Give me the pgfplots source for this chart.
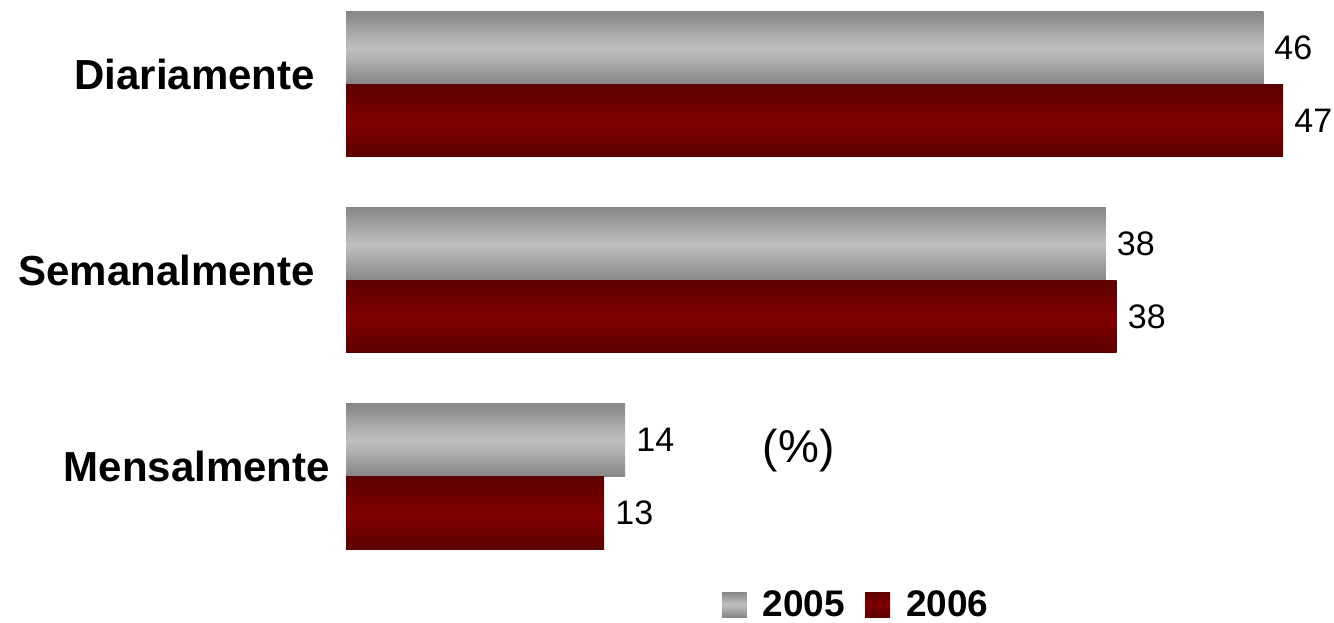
\documentclass[border=0pt]{standalone}
\usepackage{fontspec}
\setmainfont{Liberation Sans}
\usepackage{pgfplots}
\pgfplotsset{compat=1.18}
\definecolor{greyedge}{HTML}{878787}
\definecolor{greymid}{HTML}{C0C0C0}
\definecolor{rededge}{HTML}{5C0000}
\definecolor{redmid}{HTML}{800000}
\pgfplotsset{
  s2005/.style={draw=none, top color=greyedge, bottom color=greyedge, middle color=greymid, bar shift=36.25bp},
  s2006/.style={draw=none, top color=rededge, bottom color=rededge, middle color=redmid, bar shift=-36.25bp},
}
\begin{document}
\begin{tikzpicture}
\useasboundingbox (0,0) rectangle (1334bp,623bp);
\begin{axis}[
  at={(346bp,68.1bp)}, anchor=south west,
  scale only axis, width=977.1bp, height=548.8bp,
  xbar, bar width=72.5bp,
  xmin=0, xmax=49, ymin=-0.4, ymax=2.4,
  axis line style={draw=none}, major tick length=0pt,
  xtick=\empty, ytick={0,1,2},
  yticklabels={Mensalmente\hspace*{-15bp}, Semanalmente, Diariamente},
  yticklabel style={font=\fontsize{42bp}{48bp}\selectfont\bfseries, inner sep=0pt, xshift=-31bp, yshift=10bp},
  point meta=explicit symbolic,
  nodes near coords={\pgfplotspointmeta},
  nodes near coords style={font=\fontsize{34bp}{40bp}\selectfont, inner sep=0pt, anchor=west, xshift=11bp, color=black},
  clip=false,
  legend columns=2,
  legend style={at={(0.522,-0.0904)}, anchor=center, draw=none, fill=none, font=\fontsize{37bp}{42bp}\selectfont\bfseries, inner sep=0pt,
    /tikz/every odd column/.append style={column sep=14bp},
    /tikz/every even column/.append style={column sep=18bp}},
  legend image code/.code={\path[#1] (0bp,-12.5bp) rectangle (25bp,12.5bp);},
]
\addplot[s2005] coordinates {(46,2) [46]};
\addplot[s2006] coordinates {(47,2) [47]};
\addplot[s2005, forget plot] coordinates {(38.1,1) [38]};
\addplot[s2006, forget plot] coordinates {(38.65,1) [38]};
\addplot[s2005, forget plot] coordinates {(14,0) [14]};
\addplot[s2006, forget plot] coordinates {(12.95,0) [13]};
\legend{2005,2006}
\node[font=\fontsize{46bp}{52bp}\selectfont] at (axis cs:22.7,0.13) {(\%)};
\end{axis}
\end{tikzpicture}
\end{document}
